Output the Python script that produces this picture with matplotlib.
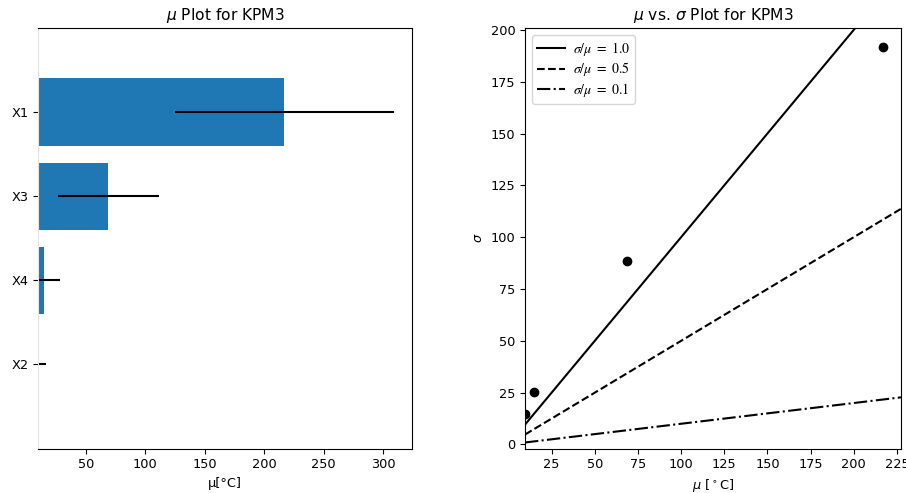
import numpy as np
import matplotlib
matplotlib.use("Agg")
import matplotlib.pyplot as plt
from matplotlib.font_manager import FontProperties

plt.rcParams["font.size"] = 9.3

# Morris screening results for KPM3
names = ["X1", "X3", "X4", "X2"]
mu_star = [217.0, 68.8, 14.8, 9.6]
mu_star_conf = [92.0, 42.7, 13.0, 7.0]
sigma = [192.0, 88.6, 25.5, 14.6]

ratios = [1.0, 0.5, 0.1]
ratio_styles = ["k-", "k--", "k-."]

fig = plt.figure(figsize=(9.06, 4.93), dpi=100)
ax1 = fig.add_axes([0.042, 0.090, 0.4127, 0.8535])
ax2 = fig.add_axes([0.5795, 0.090, 0.415, 0.8535])

# Horizontal bar plot of mu* with confidence intervals
y_pos = np.arange(len(names))
ax1.barh(y_pos, mu_star, xerr=mu_star_conf, align="center",
         ecolor="black", color="#1f77b4")
ax1.set_yticks(y_pos)
ax1.set_yticklabels(names)
ax1.set_ylim(max(y_pos) + 1, min(y_pos) - 1)
ax1.set_xlim(left=min(mu_star))
ax1.set_xticks([50, 100, 150, 200, 250, 300])
ax1.set_xlabel("μ[°C]")
ax1.set_title(r"$\mu$ Plot for KPM3")
ax1.spines["left"].set_color("#e4e4e4")

# mu* versus sigma with reference ratio lines
ax2.scatter(mu_star, sigma, c="k", marker="o")
ax2.set_xlim(min(mu_star), 227.4)
ax2.set_ylim(-2, 201)
xb = np.array(ax2.get_xlim())
lines = []
for r, st in zip(ratios, ratio_styles):
    ln, = ax2.plot(xb, r * xb, st)
    lines.append(ln)
ax2.set_xlim(xb)
ax2.legend(lines, [r"$\sigma/\mu\ =\ %.1f$" % r for r in ratios],
           loc="upper left", labelspacing=0.2, borderpad=0.35,
           handletextpad=0.6,
           prop=FontProperties(math_fontfamily="stix", size=10))
ax2.set_xticks(np.arange(25, 226, 25))
ax2.set_yticks(np.arange(0, 201, 25))
ax2.set_xlabel(r"$\mu$ [$^\circ$C]")
ax2.set_ylabel(r"$\sigma$")
ax2.set_title(r"$\mu$ vs. $\sigma$ Plot for KPM3")

fig.savefig("out.png", dpi=100)
